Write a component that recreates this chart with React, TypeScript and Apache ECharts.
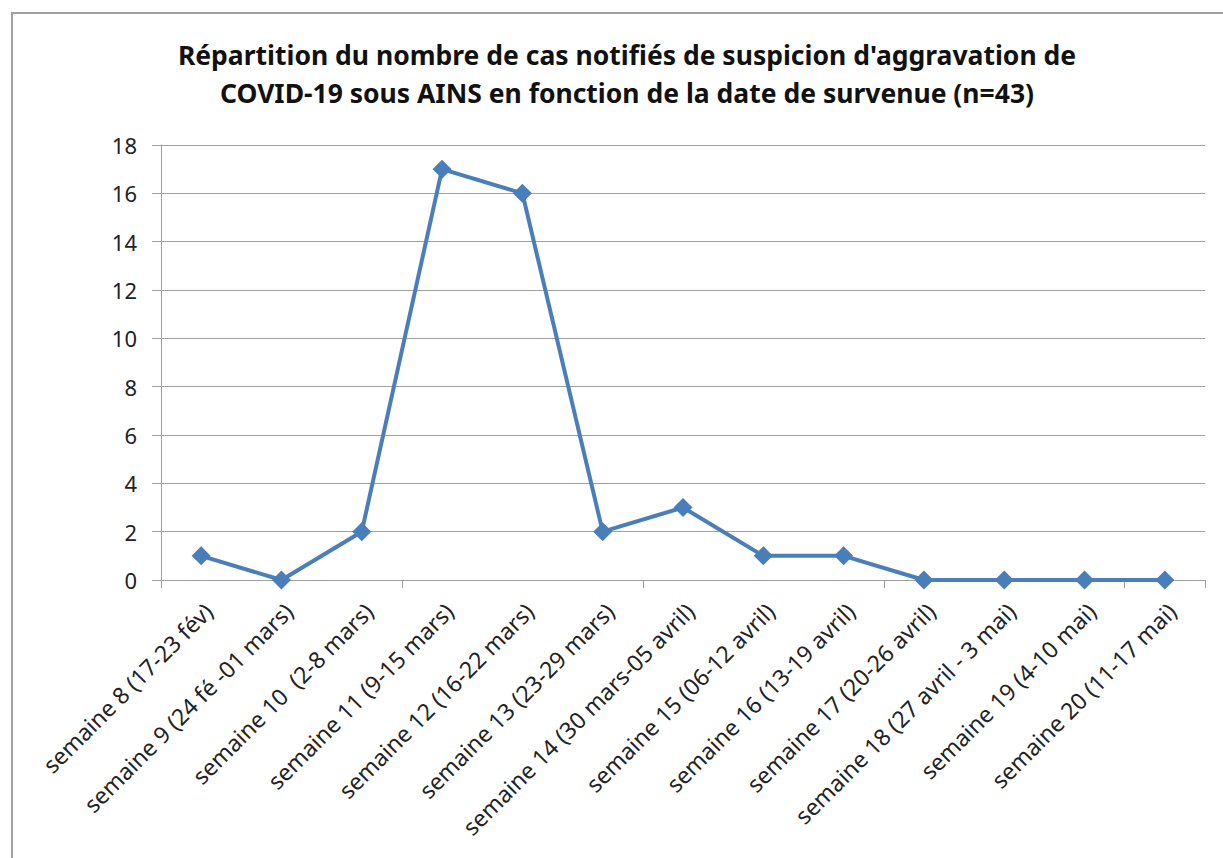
import React, { useEffect, useRef } from "react";
import * as echarts from "echarts";

const categories = [
  "semaine 8 (17-23 fév)",
  "semaine 9 (24 fé -01 mars)",
  "semaine 10  (2-8 mars)",
  "semaine 11 (9-15 mars)",
  "semaine 12 (16-22 mars)",
  "semaine 13 (23-29 mars)",
  "semaine 14 (30 mars-05 avril)",
  "semaine 15 (06-12 avril)",
  "semaine 16 (13-19 avril)",
  "semaine 17 (20-26 avril)",
  "semaine 18 (27 avril - 3 mai)",
  "semaine 19 (4-10 mai)",
  "semaine 20 (11-17 mai)",
];
const values = [1, 0, 2, 17, 16, 2, 3, 1, 1, 0, 0, 0, 0];
const titleLines = [
  "Répartition du nombre de cas notifiés de suspicion d'aggravation de",
  "COVID-19 sous AINS en fonction de la date de survenue (n=43)",
];

const LABEL_SHIFT = 7;

export default function App() {
  const ref = useRef<HTMLDivElement>(null);
  useEffect(() => {
    if (!ref.current) return;
    const chart = echarts.init(ref.current, undefined, { renderer: "svg" });
    chart.setOption({
      animation: false,
      backgroundColor: "#ffffff",
      title: {
        text: titleLines.join("\n"),
        left: 622,
        textAlign: "center",
        top: 31,
        textStyle: {
          fontFamily: "Noto Sans",
          fontWeight: "bold",
          fontSize: 26.5,
          lineHeight: 38,
          color: "#111",
        },
      },
      graphic: [
        {
          type: "rect",
          shape: { x: 12, y: 13, width: 1300, height: 900 },
          style: { fill: "none", stroke: "#a0a0a0", lineWidth: 2 },
          z: -1,
        },
      ],
      grid: [
        { left: 161, right: 18, top: 145, bottom: 278 },
        { left: 161 + LABEL_SHIFT, right: 18 - LABEL_SHIFT, top: 145, bottom: 278 },
      ],
      xAxis: [
        {
          type: "category",
          gridIndex: 0,
          data: categories,
          boundaryGap: true,
          axisLine: { lineStyle: { color: "#a0a0a0", width: 1 } },
          axisTick: { show: true, length: 8, alignWithLabel: false, lineStyle: { color: "#a0a0a0" } },
          axisLabel: { show: false },
        },
        {
          type: "category",
          gridIndex: 1,
          data: categories,
          boundaryGap: true,
          axisLine: { show: false },
          axisTick: { show: false },
          axisLabel: {
            interval: 0,
            rotate: 45,
            margin: 27,
            fontFamily: "Noto Sans",
            fontSize: 23,
            color: "#222",
          },
        },
      ],
      yAxis: [
        {
          type: "value",
          gridIndex: 0,
          min: 0,
          max: 18,
          interval: 2,
          axisLine: { show: true, lineStyle: { color: "#a0a0a0", width: 1 } },
          axisTick: { show: true, length: 9, lineStyle: { color: "#a0a0a0" } },
          splitLine: { lineStyle: { color: "#a0a0a0", width: 1 } },
          axisLabel: {
            margin: 24,
            fontFamily: "Noto Sans",
            fontSize: 22,
            color: "#222",
          },
        },
        {
          type: "value",
          gridIndex: 1,
          min: 0,
          max: 18,
          interval: 2,
          show: false,
        },
      ],
      series: [
        {
          type: "line",
          xAxisIndex: 0,
          yAxisIndex: 0,
          data: values,
          symbol: "diamond",
          symbolSize: 19,
          itemStyle: { color: "#4a7ebb" },
          lineStyle: { color: "#4a7ebb", width: 4 },
        },
      ],
    });
    return () => chart.dispose();
  }, []);
  return (
    <div
      ref={ref}
      style={{ position: "fixed", left: 0, top: 0, width: 1223, height: 858 }}
    />
  );
}
